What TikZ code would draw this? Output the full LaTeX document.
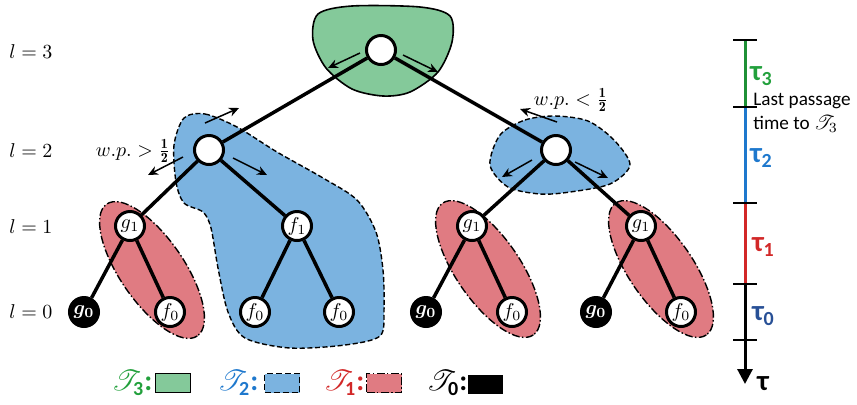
\documentclass[tikz,border=0pt]{standalone}
\usepackage{amsmath,amssymb,mathrsfs}
\usepackage{fontspec}
\newfontfamily\calib{Carlito}
\usetikzlibrary{arrows.meta}
\definecolor{fillthree}{RGB}{132,201,154}
\definecolor{filltwo}{RGB}{123,179,224}
\definecolor{fillone}{RGB}{224,123,130}
\definecolor{inkthree}{RGB}{34,160,60}
\definecolor{inktwo}{RGB}{30,120,205}
\definecolor{inkone}{RGB}{210,40,40}
\definecolor{inkzero}{RGB}{40,80,150}

\begin{document}
\begin{tikzpicture}[x=0.5pt,y=-0.5pt,
  vertex/.style={circle,draw,line width=1.5pt,fill=white,minimum size=14.5pt,inner sep=0pt},
  leaf/.style={vertex,fill=black,text=white},
  edge/.style={line width=1.75pt},
  move/.style={line width=0.75pt,-{Stealth[length=5pt,width=4.5pt]}},
  blobthree/.style={draw,line width=0.8pt,fill=fillthree},
  blobtwo/.style={draw,line width=0.7pt,dash pattern=on 2.5pt off 1.3pt,fill=filltwo},
  blobone/.style={draw,line width=0.7pt,dash pattern=on 4pt off 1.2pt on 0.7pt off 1.2pt,fill=fillone},
  keybox/.style={minimum width=17.5pt,minimum height=9.5pt,inner sep=0pt,line width=0.9pt},
  tick/.style={line width=1pt},
  span/.style={line width=1.5pt},
  tlabel/.style={anchor=west,font=\calib\bfseries\Large,inner sep=0pt}]
\useasboundingbox (0,0) rectangle (857,404);

\draw[blobthree] plot[smooth cycle] coordinates {(318,14) (352,6) (420,7) (450,16) (452,42) (438,72) (410,92) (383,96) (352,89) (326,68) (313,40)};
\draw[blobtwo] plot[smooth cycle] coordinates {(184,118) (205,114) (237,127) (277,152) (323,178) (357,200) (376,232) (383,270) (384,310) (380,336) (345,345) (290,348) (245,338) (228,312) (218,268) (211,228) (203,212) (184,203) (176,182) (174,145)};
\draw[blobtwo] plot[smooth cycle] coordinates {(500,135) (525,120) (555,116) (588,121) (614,140) (630,165) (610,184) (570,192) (540,194) (508,187) (490,165)};
\draw[blobone, rotate around={-55.5:(152,270)}] (152,270) ellipse [x radius=80, y radius=32];
\draw[blobone, rotate around={-55.5:(488,269)}] (488,269) ellipse [x radius=80, y radius=32];
\draw[blobone, rotate around={-55.5:(661,269)}] (661,269) ellipse [x radius=80, y radius=32];

\node[vertex] (root) at (381,50) {};
\node[vertex] (a) at (209,150) {};
\node[vertex] (b) at (556,150) {};
\node[vertex] (ag) at (130,226) {$g_1$};
\node[vertex] (af) at (297,226) {$f_1$};
\node[vertex] (bg) at (472,226) {$g_1$};
\node[vertex] (bh) at (641,226) {$g_1$};
\node[leaf] (agg) at (84,312) {$\boldsymbol{g_0}$};
\node[vertex] (agf) at (170,312) {$f_0$};
\node[vertex] (afl) at (255,312) {$f_0$};
\node[vertex] (afr) at (339,312) {$f_0$};
\node[leaf] (bgg) at (426,312) {$\boldsymbol{g_0}$};
\node[vertex] (bgf) at (512,312) {$f_0$};
\node[leaf] (bhg) at (596,312) {$\boldsymbol{g_0}$};
\node[vertex] (bhf) at (681,312) {$f_0$};

\foreach \u/\v in {root/a,root/b,a/ag,a/af,b/bg,b/bh,ag/agg,ag/agf,af/afl,af/afr,bg/bgg,bg/bgf,bh/bhg,bh/bhf}
  \draw[edge] (\u) -- (\v);

\draw[move] ([shift={(-21,3)}]root.center) -- ++(-32,15);
\draw[move] ([shift={(22,5)}]root.center) -- ++(35,17);
\draw[move] ([shift={(-4,-27)}]a.center) -- ++(34,-15);
\draw[move] ([shift={(-26,7)}]a.center) -- ++(-35,18);
\draw[move] ([shift={(24,8)}]a.center) -- ++(34,17);
\draw[move] ([shift={(1,-28)}]b.center) -- ++(-37,-13);
\draw[move] ([shift={(-24,10)}]b.center) -- ++(-30,17);
\draw[move] ([shift={(19,12)}]b.center) -- ++(33,16);

\node[inner sep=0pt] (wpa) at (133,151) {$w.p. > \tfrac{\mathbf{1}}{\mathbf{2}}$};
\node[inner sep=0pt] (wpb) at (571,100) {$w.p. < \tfrac{\mathbf{1}}{\mathbf{2}}$};

\node (l3) at (31,52) {$l=3$};
\node (l2) at (31,151) {$l=2$};
\node (l1) at (31,227) {$l=1$};
\node (l0) at (31,312) {$l=0$};

\coordinate (s0) at (745,40);
\coordinate (s1) at (745,107);
\coordinate (s2) at (745,203);
\coordinate (s3) at (745,284);
\coordinate (s4) at (745,340);
\coordinate (s5) at (745,384);
\draw[span,inkthree!90!black] (s0) -- (s1);
\draw[span,inktwo] (s1) -- (s2);
\draw[span,inkone] (s2) -- (s3);
\draw[span,-{Triangle[length=7.5pt,width=7.5pt]}] (s3) -- (s5);
\foreach \s in {s0,s1,s2,s3,s4}
  \draw[tick] ([xshift=-6]\s) -- ([xshift=6]\s);

\node[tlabel,text=inkthree] (tau3) at (750,76) {τ\textsubscript{3}};
\node[anchor=west,align=left,font=\calib\fontsize{9.6}{12}\selectfont,inner sep=0pt] (lpt) at (753,113) {Last passage\\time to $\mathscr{T}_3$};
\node[tlabel,text=inktwo] (tau2) at (750,158) {τ\textsubscript{2}};
\node[tlabel,text=inkone] (tau1) at (752,247) {τ\textsubscript{1}};
\node[tlabel,text=inkzero] (tau0) at (752,316) {τ\textsubscript{0}};
\node[tlabel] (tau) at (757,384) {τ};

\node[text=inkthree,font=\Large] (k3) at (132,383) {$\mathscr{T}_{\text{\calib\bfseries 3}}$\calib\bfseries :};
\node[keybox,draw,fill=fillthree] (b3) at (173,383) {};
\node[text=inktwo,font=\Large] (k2) at (238,383) {$\mathscr{T}_{\text{\calib\bfseries 2}}$\calib\bfseries :};
\node[keybox,draw,dash pattern=on 3pt off 1.5pt,fill=filltwo] (b2) at (282,383) {};
\node[text=inkone,font=\Large] (k1) at (344,383) {$\mathscr{T}_{\text{\calib\bfseries 1}}$\calib\bfseries :};
\node[keybox,draw,dash pattern=on 4pt off 1.2pt on 0.7pt off 1.2pt,fill=fillone] (b1) at (384,383) {};
\node[font=\Large] (k0) at (447,383) {$\mathscr{T}_{\text{\calib\bfseries 0}}$\calib\bfseries :};
\node[keybox,fill=black] (b0) at (485,384) {};
\end{tikzpicture}
\end{document}
